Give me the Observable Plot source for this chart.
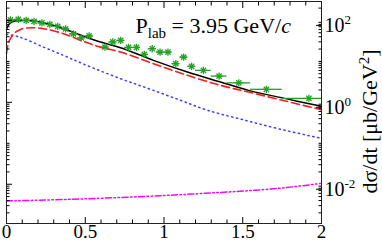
<!DOCTYPE html>
<html><head><meta charset="utf-8">
<script src="https://cdn.jsdelivr.net/npm/d3@7"></script>
<script src="https://cdn.jsdelivr.net/npm/@observablehq/plot@0.6"></script>
<style>body{margin:0;background:#fff} #chart svg{display:block;font-family:"Liberation Serif",serif} #chart svg text{font-family:"Liberation Serif",serif}</style>
</head><body><div id="chart"></div>
<script>
// measured data (green asterisks) with t-bin edges
const dataT  = [0.025,0.075,0.125,0.175,0.225,0.275,0.325,0.375,0.425,0.475,0.525,0.625,0.675,0.725,0.775,0.825,0.875,0.925,0.975,1.025,1.075,1.125,1.175,1.25,1.35,1.475,1.65,1.92];
const dataV  = [102.9,105.8,100,94.5,86.9,79.8,71.4,62.1,46.9,37.4,41.9,22.3,29.9,32.5,21.9,21.9,14.8,20.4,16.9,16.9,8.8,12.7,7.55,6.03,4.38,2.99,2.08,1.25];
const dataLo = [0,0.05,0.1,0.15,0.2,0.25,0.3,0.35,0.4,0.45,0.5,0.6,0.65,0.7,0.75,0.8,0.85,0.9,0.95,1.0,1.05,1.1,1.15,1.2,1.3,1.4,1.55,1.75];
const dataHi = [0.05,0.1,0.15,0.2,0.25,0.3,0.35,0.4,0.45,0.5,0.55,0.65,0.7,0.75,0.8,0.85,0.9,0.95,1.0,1.05,1.1,1.15,1.2,1.3,1.4,1.55,1.75,2.0];

// total (black solid)
const totalT = [0,0.01,0.03,0.06,0.1,0.15,0.235,0.362,0.489,0.597,0.724,0.933,1.149,1.359,1.537,1.765,2.0];
const totalV = [60,75,90,97,100,100,88,62.8,41.4,29.6,21.6,10.6,5.48,3.13,1.96,1.25,0.80];
// red dashed
const redT = [0,0.006,0.015,0.025,0.046,0.089,0.152,0.235,0.362,0.489,0.597,0.724,0.933,1.149,1.359,1.537,1.765,2.0];
const redV = [15.4,22,30,36,47.4,60.3,66.3,62.8,47.4,30.8,22.3,16.9,8.8,4.56,2.6,1.78,1.09,0.66];
// blue dotted
const blueT = [0,0.089,0.235,0.362,0.483,0.724,0.914,1.105,1.276,1.498,1.74,2.0];
const blueV = [45.6,38.5,22.3,14.0,8.8,3.78,2.08,1.12,0.64,0.38,0.22,0.132];
// magenta dash-dot-dot
const magT = [0,0.5,1.0,1.25,1.5,1.75,2.0];
const magV = [0.0039,0.0044,0.0053,0.006,0.0068,0.0081,0.0105];

const xMajor = [0,0.5,1,1.5,2];
const xMinor = [0.1,0.2,0.3,0.4,0.6,0.7,0.8,0.9,1.1,1.2,1.3,1.4,1.6,1.7,1.8,1.9];
const yMajor = [0.01,1,100];
const yMinor = [0.002,0.003,0.004,0.005,0.006,0.007,0.008,0.009,
  0.02,0.03,0.04,0.05,0.06,0.07,0.08,0.09,0.1,0.2,0.3,0.4,0.5,0.6,0.7,0.8,0.9,
  2,3,4,5,6,7,8,9,10,20,30,40,50,60,70,80,90,200];
const yTickLabels = ["10^-2","10^0","10^2"];
const titleText = "P_lab = 3.95 GeV/c";
const yLabelText = "dσ/dt [μb/GeV^2]";

const pts = (T, V) => T.map((t, i) => ({t, v: V[i]}));
const data = dataT.map((t, i) => ({t, v: dataV[i], lo: dataLo[i], hi: dataHi[i]}));
const green = "#22a022";
const blank = () => "";
const serif = "Liberation Serif";

const plot = Plot.plot({
  width: 382, height: 242,
  marginLeft: 6, marginRight: 61, marginTop: 1, marginBottom: 19,
  style: {fontFamily: serif, fontSize: "20px", background: "white", color: "black"},
  x: {domain: [0, 2]},
  y: {type: "log", domain: [0.0011, 290]},
  marks: [
    Plot.line(pts(magT, magV), {x: "t", y: "v", stroke: "#ff00ff", strokeWidth: 1.5, strokeDasharray: "6 2.5 1.5 2.5 1.5 2.5", curve: "catmull-rom"}),
    Plot.line(pts(blueT, blueV), {x: "t", y: "v", stroke: "#3c3cff", strokeWidth: 1.5, strokeDasharray: "1.3 3.6", curve: "catmull-rom"}),
    Plot.line(pts(redT, redV), {x: "t", y: "v", stroke: "#ff1a1a", strokeWidth: 1.6, strokeDasharray: "8 4", curve: "catmull-rom"}),
    Plot.line(pts(totalT, totalV), {x: "t", y: "v", stroke: "black", strokeWidth: 1.5, curve: "catmull-rom"}),
    Plot.ruleY(data, {y: "v", x1: "lo", x2: "hi", stroke: green, strokeWidth: 1.3}),
    Plot.dot(data, {x: "t", y: "v", symbol: "plus", r: 2.5, stroke: green, strokeWidth: 1.3}),
    Plot.dot(data, {x: "t", y: "v", symbol: "times", r: 2.5, stroke: green, strokeWidth: 1.3}),
    // axes: inward ticks on all four sides
    Plot.axisX(xMajor, {anchor: "bottom", tickSize: -6, tickPadding: 7, tickFormat: d => String(d), label: null, fontSize: 19, fontFamily: serif}),
    Plot.axisX(xMinor, {anchor: "bottom", tickSize: -3.5, tickFormat: blank, label: null}),
    Plot.axisX(xMajor, {anchor: "top", tickSize: -6, tickFormat: blank, label: null}),
    Plot.axisX(xMinor, {anchor: "top", tickSize: -3.5, tickFormat: blank, label: null}),
    Plot.axisY(yMajor, {anchor: "right", tickSize: -6, tickPadding: 9, dy: 5, tickFormat: d => yTickLabels[yMajor.indexOf(d)], label: null, fontSize: 20, fontFamily: serif}),
    Plot.axisY(yMinor, {anchor: "right", tickSize: -3.5, tickFormat: blank, label: null}),
    Plot.axisY(yMajor, {anchor: "left", tickSize: -6, tickFormat: blank, label: null}),
    Plot.axisY(yMinor, {anchor: "left", tickSize: -3.5, tickFormat: blank, label: null}),
    Plot.frame({stroke: "#222", strokeWidth: 1}),
    Plot.text([titleText], {frameAnchor: "top-left", textAnchor: "start", lineAnchor: "top", dx: 129, dy: 16, fontSize: 22, fontFamily: serif}),
    Plot.text([yLabelText], {frameAnchor: "right", rotate: -90, textAnchor: "middle", lineAnchor: "middle", dx: 48, dy: 9, fontSize: 22, fontFamily: serif})
  ]
});

// typeset superscripts / subscripts as real text
plot.querySelectorAll("text").forEach(el => {
  const s = el.textContent;
  let m;
  if ((m = /^10\^(-?\d+)$/.exec(s))) {
    el.innerHTML = `10<tspan dy="-8" font-size="13">${m[1]}</tspan>`;
  } else if (s === titleText) {
    el.innerHTML = `P<tspan dy="5" font-size="15">lab</tspan><tspan dy="-5"> = 3.95 GeV/</tspan><tspan font-style="italic">c</tspan>`;
  } else if (s === yLabelText) {
    el.innerHTML = `dσ/dt [μb/GeV<tspan dy="-8" font-size="15">2</tspan><tspan dy="8">]</tspan>`;
  }
});
document.getElementById("chart").appendChild(plot);
</script>
</body></html>
